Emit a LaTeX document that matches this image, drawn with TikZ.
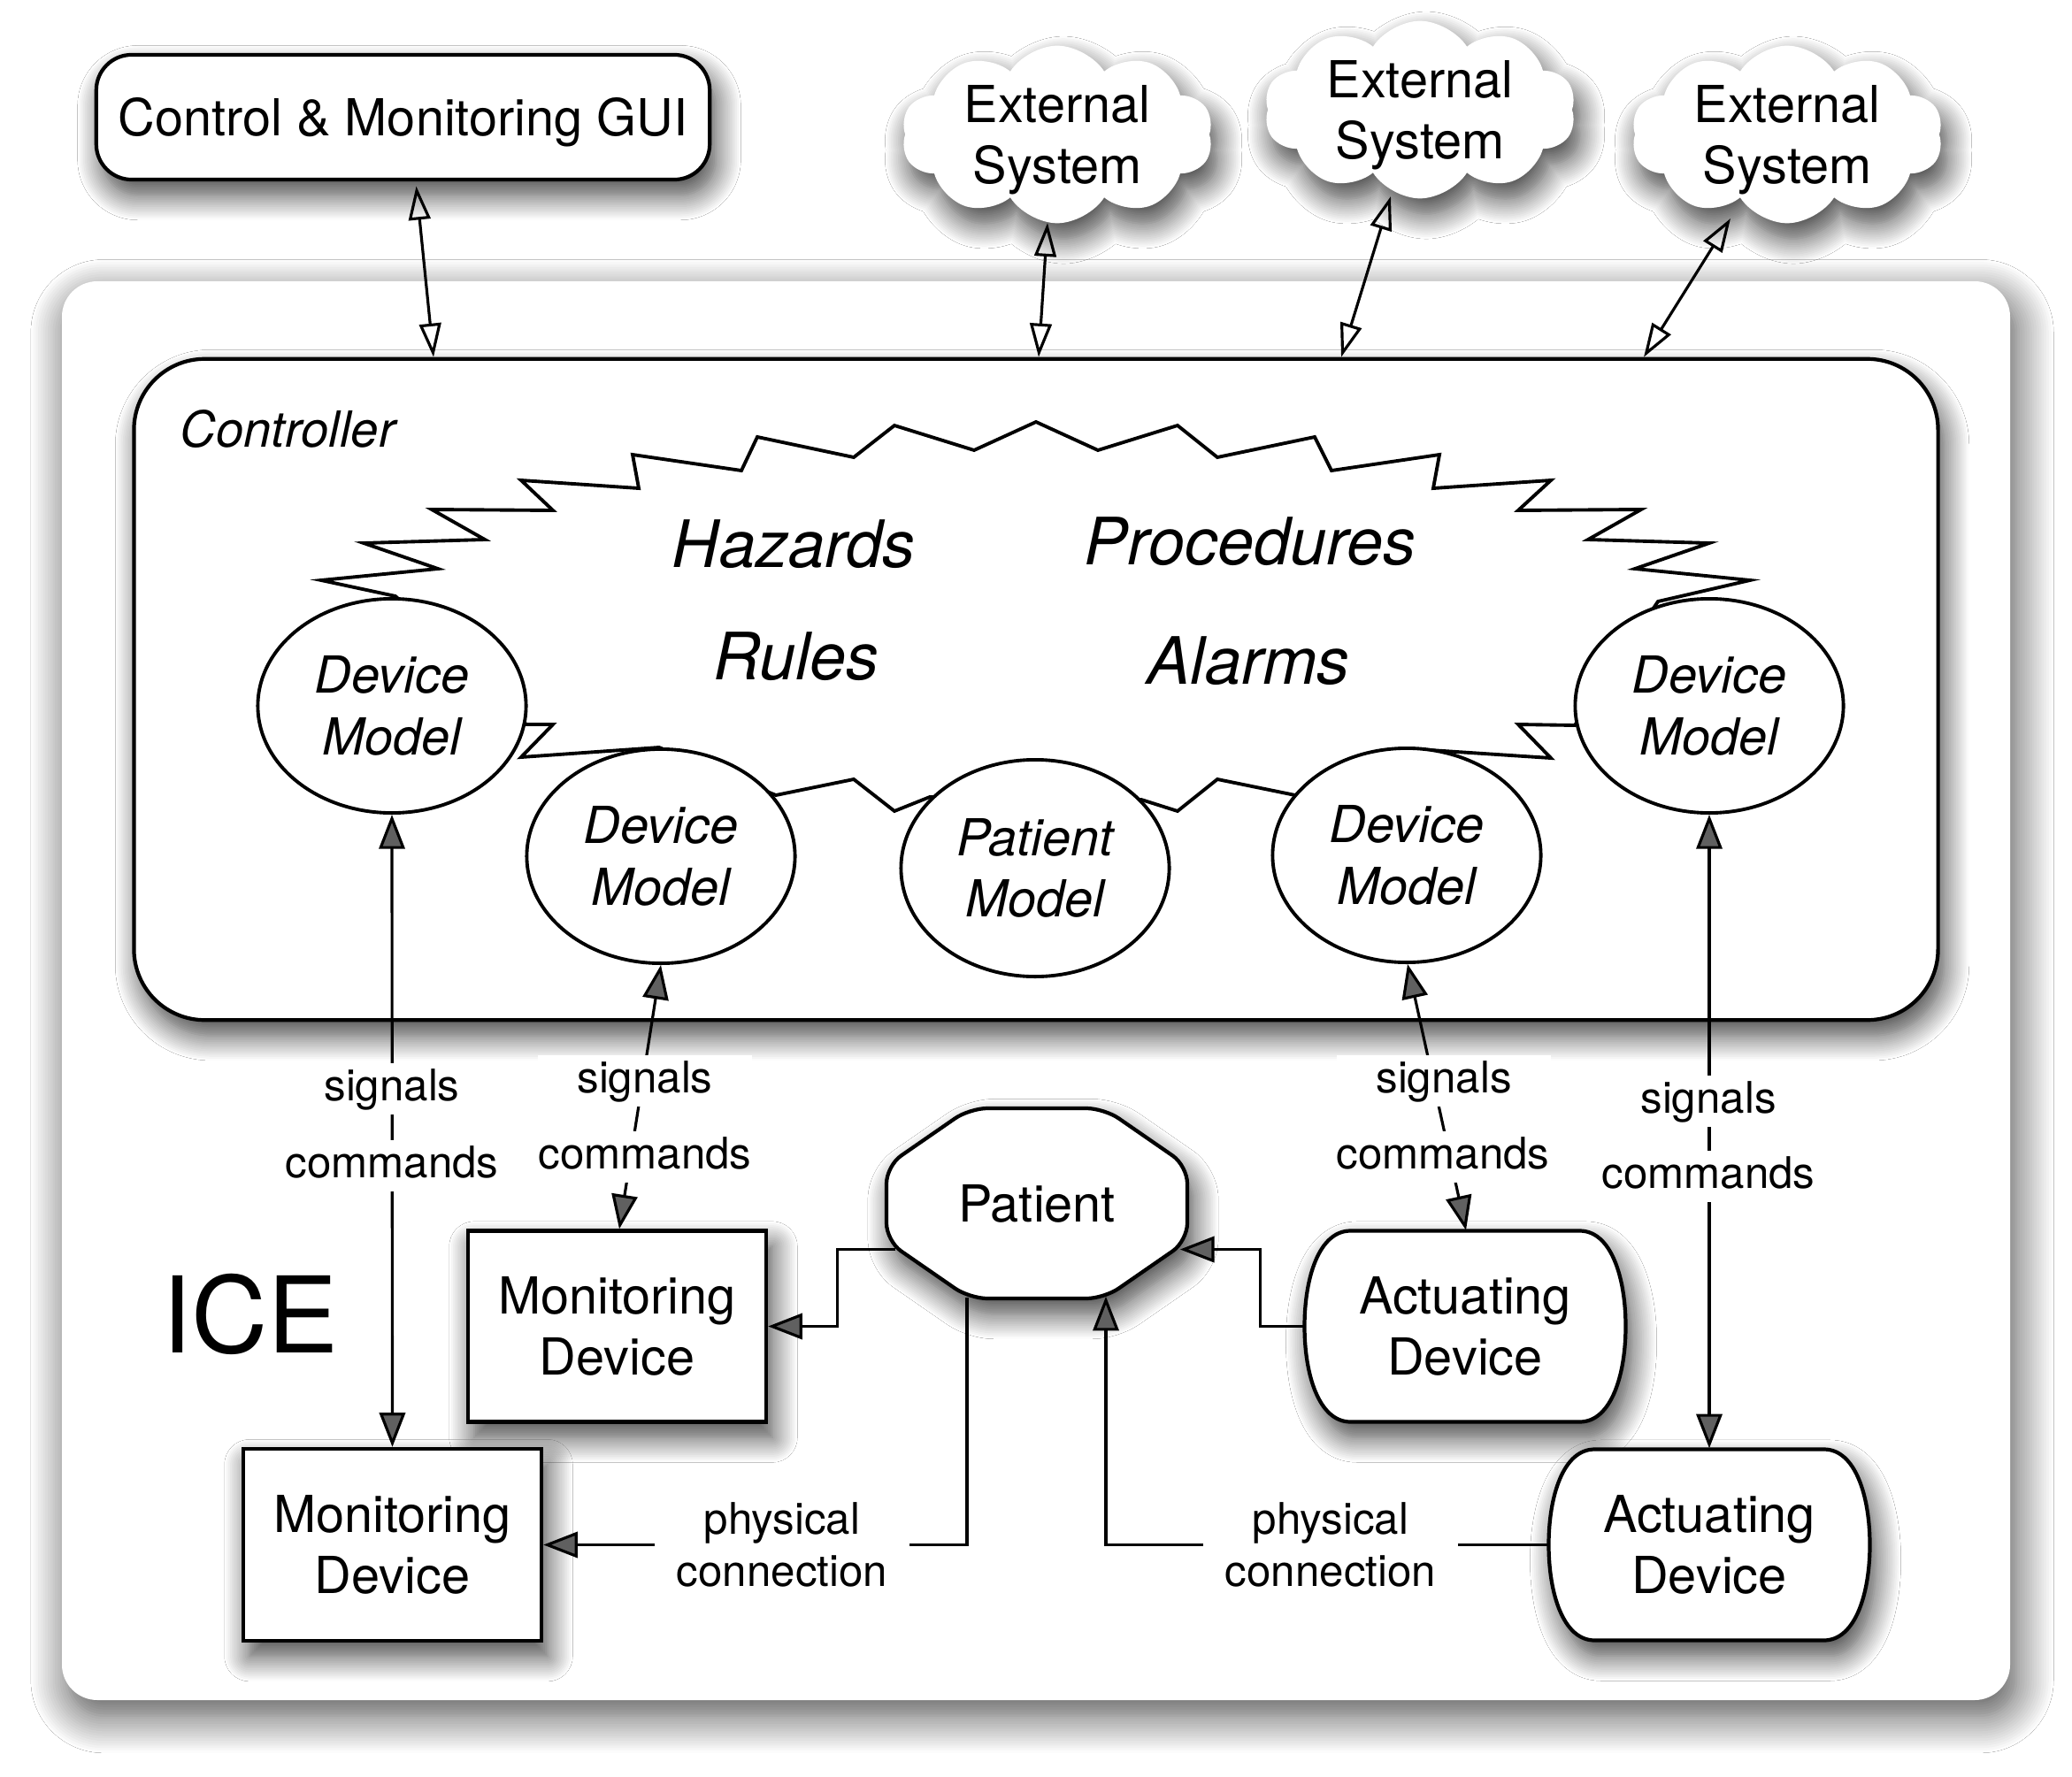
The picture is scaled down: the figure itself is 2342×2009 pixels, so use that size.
\documentclass[tikz,border=0pt]{standalone}
\usepackage{fontspec}
\setmainfont{TeX Gyre Heros}
\usetikzlibrary{shapes.geometric,shapes.symbols,arrows.meta,calc,shadows.blur}
\begin{document}
\begin{tikzpicture}[x=0.01cm,y=-0.01cm,
  every node/.style={inner sep=0pt},
  shd/.style={blur shadow={shadow xshift=2pt,shadow yshift=-5pt,shadow blur radius=8pt,shadow blur steps=14,shadow opacity=75}},
  pshd/.style={blur shadow={shadow xshift=2pt,shadow yshift=-5pt,shadow blur radius=12pt,shadow blur steps=16,shadow opacity=70}},
  bigtxt/.style={font=\fontsize{16.4}{19.8}\selectfont,align=center},
  dmell/.style={ellipse,draw,fill=white,line width=1.1pt,minimum width=3.03cm,minimum height=2.42cm,
    font=\itshape\fontsize{16.4}{19.8}\selectfont,align=center},
  hztxt/.style={font=\itshape\fontsize{21}{25}\selectfont,anchor=base},
  mdbox/.style={draw,fill=white,line width=1.2pt,minimum width=3.37cm,minimum height=2.16cm,shd,bigtxt},
  cloudn/.style={cloud,cloud puffs=10,cloud puff arc=115,cloud ignores aspect,fill=white,shd,
    minimum width=3.52cm,minimum height=1.88cm,bigtxt,text depth=0pt},
  sigl/.style={fill=white,font=\fontsize{14}{16.8}\selectfont,text height=10.5pt,text depth=3pt,inner xsep=1pt,inner ysep=1.5pt},
  sigw/.style={sigl,minimum width=2.42cm},
  physl/.style={fill=white,font=\fontsize{14}{16.8}\selectfont,align=center,inner xsep=7pt,inner ysep=1pt},
  fa/.style={-{Triangle[length=11pt,width=8.3pt]},line width=0.9pt},
  fab/.style={{Triangle[length=11pt,width=8.3pt]}-{Triangle[length=11pt,width=8.3pt]},line width=0.9pt},
  oab/.style={{Triangle[open,length=10.8pt,width=7pt]}-{Triangle[open,length=10.8pt,width=7pt]},line width=0.9pt},
  shapeline/.style={draw,fill=white,line width=1.2pt,shd}
]
\fill[white] (0,0) rectangle (2342,2009);
\useasboundingbox (0,0) rectangle (2342,2009);

% ICE panel
\path[fill=white,pshd,rounded corners=0.4cm] (70,318) rectangle (2272,1922);

% top elements
\node[draw,fill=white,line width=1.2pt,rounded corners=0.4cm,minimum width=6.93cm,minimum height=1.41cm,shd,
  font=\fontsize{16.4}{19.8}\selectfont,text height=12pt,text depth=0pt] (gui) at (455.5,132.5) {Control \& Monitoring GUI};
\node[cloudn] (ext1) at (1195,152) {External\\System};
\node[cloudn] (ext2) at (1605,124) {External\\System};
\node[cloudn] (ext3) at (2020,152) {External\\System};

% controller
\node[draw,fill=white,line width=1.2pt,rounded corners=0.8cm,minimum width=20.38cm,minimum height=7.47cm,shd] (ctl) at (1171,779.5) {};
\node[anchor=base west,font=\itshape\fontsize{16}{19}\selectfont] (ctltxt) at (203,505) {Controller};

\draw[oab] ($(gui.center)+(15,78)$) -- ($(ctl.north)+(-681,0)$);
\draw[oab] ($(ext1.center)+(-11,100)$) -- ($(ctl.north)+(3,0)$);
\draw[oab] ($(ext2.center)+(-33,98)$) -- ($(ctl.north)+(345,0)$);
\draw[oab] ($(ext3.center)+(-64,95)$) -- ($(ctl.north)+(687,0)$);

% starburst
\draw[line width=1.1pt,line join=miter]
 (447,674) -- (363,656) -- (495,643) -- (411,614) -- (548,610) -- (488,576) -- (625,577) -- (589,543)
 -- (722,552) -- (715,514) -- (838,532) -- (856,494) -- (965,517) -- (1011,481) -- (1101,509) -- (1171,477)
 -- (1241,509) -- (1331,481) -- (1376,517) -- (1486,494) -- (1505,532) -- (1627,514) -- (1620,552) -- (1753,543)
 -- (1716,577) -- (1855,576) -- (1795,610) -- (1932,614) -- (1848,643) -- (1978,656) -- (1874,680)
 -- (1780,820) -- (1716,819) -- (1753,857) -- (1616,848)
 -- (1464,899) -- (1376,881) -- (1331,917) -- (1290,904)
 -- (1051,901) -- (1011,917) -- (965,881) -- (877,899)
 -- (745,845) -- (589,856) -- (625,819) -- (595,819) -- cycle;

\node[hztxt] (hz) at (897,641) {Hazards};
\node[hztxt] (pr) at (1413,638) {Procedures};
\node[hztxt] (ru) at (900,768) {Rules};
\node[hztxt] (al) at (1411,773) {Alarms};

% models
\node[dmell] (dm1) at (443,798) {Device\\Model};
\node[dmell] (dm2) at (747,968) {Device\\Model};
\node[dmell,minimum height=2.45cm] (pm) at (1170,981.5) {Patient\\Model};
\node[dmell] (dm4) at (1590,967) {Device\\Model};
\node[dmell] (dm5) at (1932,798) {Device\\Model};

% ICE label
\node[anchor=base,font=\fontsize{34}{40}\selectfont] (ice) at (283,1529) {ICE};

% monitoring devices
\node[mdbox] (md1) at (697.5,1499.5) {Monitoring\\Device};
\node[mdbox,minimum height=2.17cm] (md2) at (443.5,1746.5) {Monitoring\\Device};

% patient octagon
\coordinate (patc) at (1172,1360.5);
\path[shapeline,rounded corners=0.2cm] ($(patc)+(-76,-107.5)$) -- ++(152,0) -- ++(94,65) -- ++(0,85) -- ++(-94,65)
  -- ++(-152,0) -- ++(-94,-65) -- ++(0,-85) -- cycle;
\node[minimum width=3.4cm,minimum height=2.15cm,font=\fontsize{16.4}{19.8}\selectfont,text height=12pt,text depth=0pt] (pat) at (patc) {Patient};

% actuating devices
\coordinate (ad1c) at (1656,1499.5);
\coordinate (ad2c) at (1932,1746.5);
\foreach \c in {ad1c,ad2c}{
  \path[shapeline] ($(\c)+(-129.5,-108)$) -- ++(259,0)
    .. controls +(36,0) and +(0,-54) .. ++(52,108)
    .. controls +(0,54) and +(36,0) .. ++(-52,108)
    -- ++(-259,0)
    .. controls +(-36,0) and +(0,54) .. ++(-52,-108)
    .. controls +(0,-54) and +(-36,0) .. ++(52,-108) -- cycle;
}
\node[minimum width=3.63cm,minimum height=2.16cm,bigtxt] (ad1) at (ad1c) {Actuating\\Device};
\node[minimum width=3.63cm,minimum height=2.17cm,bigtxt] (ad2) at (ad2c) {Actuating\\Device};

% signal/command connectors
\draw[fab] (dm1.south) -- (md2.north);
\node[sigl] at (443,1231) {signals};
\node[sigl] at (443,1318) {commands};

\draw[fab] (dm2.south) -- ($(md1.north)+(2.5,0)$);
\node[sigw] at (729,1222) {signals};
\node[sigl] at (729,1308) {commands};

\draw[fab] ($(dm4.south)+(1,0)$) -- ($(ad1.north)+(1,0)$);
\node[sigw] at (1632,1222) {signals};
\node[sigl] at (1631,1308) {commands};

\draw[fab] (dm5.south) -- (ad2.north);
\node[sigl] at (1931,1245) {signals};
\node[sigl] at (1931,1330) {commands};

% physical connections
\draw[fa] ($(pat.west)+(11,52)$) -- ++(-66,0) |- (md1.east);
\draw[fa] ($(pat.south)+(-79,-2)$) |- (md2.east);
\node[physl] at (884,1746) {physical\\connection};
\draw[fa] (ad1.west) -- ++(-49,0) |- ($(pat.east)+(-9,52)$);
\draw[fa] (ad2.west) -| ($(pat.south)+(78,-3)$);
\node[physl] at (1504,1746) {physical\\connection};
\end{tikzpicture}
\end{document}
